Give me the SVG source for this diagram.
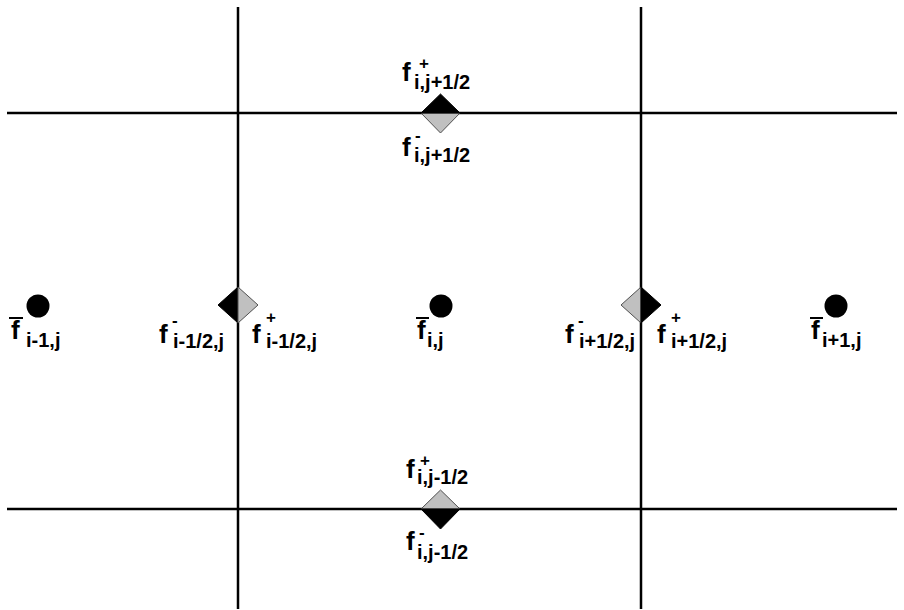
<svg xmlns="http://www.w3.org/2000/svg" width="904" height="610" viewBox="0 0 904 610">
<style>
.grid{stroke:#000;stroke-width:2.5;fill:none}
.blk{fill:#000;stroke:#000;stroke-width:1}
.gry{fill:#c0c0c0;stroke:#505050;stroke-width:1}
.dot{fill:#000}
text{font-family:"Liberation Sans",Arial,sans-serif;fill:#000;font-weight:bold}
.f{font-size:26px}
.s{font-size:20px}
.p{font-size:17px}
.ov{stroke:#000;stroke-width:2}
</style>
<rect width="904" height="610" fill="#fff"/>
<g id="connectors">
<line class="grid" x1="238" y1="7" x2="238" y2="609"/>
<line class="grid" x1="641" y1="7" x2="641" y2="609"/>
<line class="grid" x1="7" y1="113" x2="897" y2="113"/>
<line class="grid" x1="7" y1="509" x2="897" y2="509"/>
</g>
<g id="face-top">
<polygon class="gry" points="421,113 460,113 440.5,133"/>
<polygon class="blk" points="421,113 460,113 440.5,94"/>
<text><tspan class="f" x="402" y="81">f</tspan><tspan class="p" x="419" y="69">+</tspan><tspan class="s" x="414" y="89">i,j+1/2</tspan></text>
<text><tspan class="f" x="402" y="156">f</tspan><tspan class="p" x="415" y="141">-</tspan><tspan class="s" x="414" y="162">i,j+1/2</tspan></text>
</g>
<g id="face-bottom">
<polygon class="gry" points="421,509 460,509 440.5,490"/>
<polygon class="blk" points="421,509 460,509 440.5,529"/>
<text><tspan class="f" x="406" y="478">f</tspan><tspan class="p" x="420" y="466">+</tspan><tspan class="s" x="417" y="484">i,j-1/2</tspan></text>
<text><tspan class="f" x="406" y="550">f</tspan><tspan class="p" x="419" y="538">-</tspan><tspan class="s" x="417" y="559">i,j-1/2</tspan></text>
</g>
<g id="face-left">
<polygon class="blk" points="238,287 238,323 218,305"/>
<polygon class="gry" points="238,287 238,323 258,305"/>
<text><tspan class="f" x="159" y="343">f</tspan><tspan class="p" x="172" y="326">-</tspan><tspan class="s" x="173" y="348">i-1/2,j</tspan></text>
<text><tspan class="f" x="252" y="343">f</tspan><tspan class="p" x="266" y="323">+</tspan><tspan class="s" x="266" y="348">i-1/2,j</tspan></text>
</g>
<g id="face-right">
<polygon class="gry" points="641,287 641,323 621,305"/>
<polygon class="blk" points="641,287 641,323 661,305"/>
<text><tspan class="f" x="565" y="343">f</tspan><tspan class="p" x="578" y="326">-</tspan><tspan class="s" x="579" y="348">i+1/2,j</tspan></text>
<text><tspan class="f" x="657" y="343">f</tspan><tspan class="p" x="671" y="323">+</tspan><tspan class="s" x="671" y="348">i+1/2,j</tspan></text>
</g>
<g id="cell-left">
<circle class="dot" cx="38" cy="306" r="11.5"/>
<line class="ov" x1="9" y1="318" x2="23" y2="318"/>
<text><tspan class="f" x="11" y="339">f</tspan><tspan class="s" x="26" y="347">i-1,j</tspan></text>
</g>
<g id="cell-center">
<circle class="dot" cx="441" cy="306" r="11.5"/>
<line class="ov" x1="416" y1="318" x2="429" y2="318"/>
<text><tspan class="f" x="417" y="339">f</tspan><tspan class="s" x="427" y="347">i,j</tspan></text>
</g>
<g id="cell-right">
<circle class="dot" cx="836" cy="306" r="11.5"/>
<line class="ov" x1="810" y1="318" x2="823" y2="318"/>
<text><tspan class="f" x="811" y="339">f</tspan><tspan class="s" x="822" y="347">i+1,j</tspan></text>
</g>
</svg>
